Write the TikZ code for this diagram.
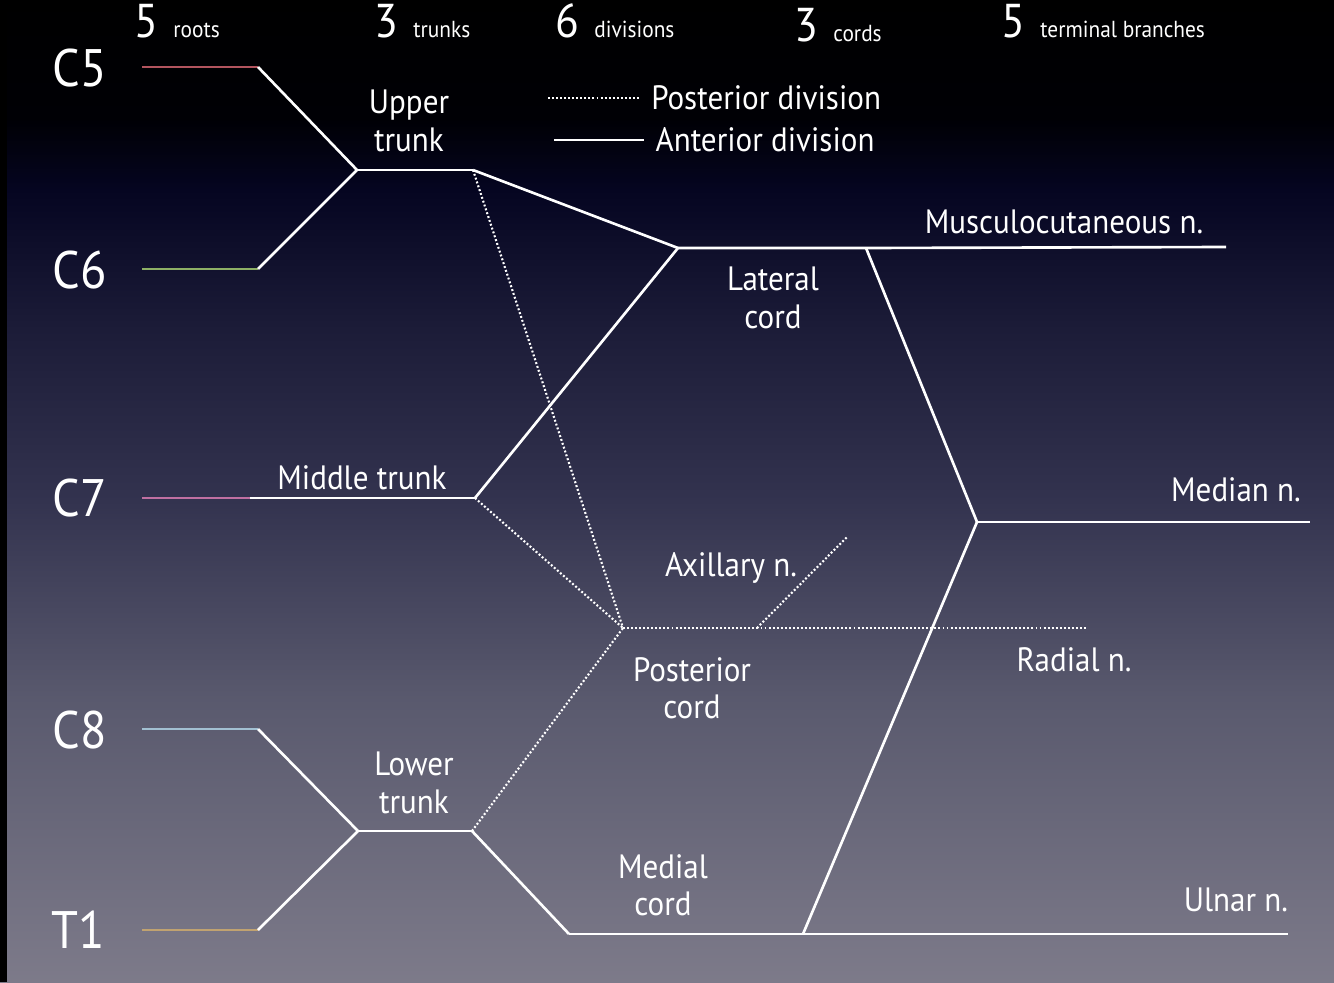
\documentclass[tikz,border=0pt]{standalone}
\usepackage{fontspec}
\setmainfont{PT Sans}[FakeStretch=0.92]
\usepackage{xcolor}
\definecolor{rootcfive}{RGB}{178,84,94}
\definecolor{rootcsix}{RGB}{142,176,102}
\definecolor{rootcseven}{RGB}{192,112,162}
\definecolor{rootceight}{RGB}{162,192,210}
\definecolor{roottone}{RGB}{192,162,112}
\usepackage{tikz}
\usetikzlibrary{positioning}
% the path is mapped onto 25bp..75bp of the shading
\pgfdeclareverticalshading{nightsky}{100bp}{%
  rgb(0bp)=(0.49,0.48,0.54); rgb(25bp)=(0.49,0.48,0.54);
  rgb(39.4bp)=(0.35,0.35,0.43); rgb(49.5bp)=(0.20,0.20,0.31);
  rgb(58.2bp)=(0.11,0.11,0.22); rgb(65.3bp)=(0.02,0.02,0.13);
  rgb(68.9bp)=(0,0,0.02); rgb(75bp)=(0,0,0); rgb(100bp)=(0,0,0)}

\begin{document}
\begin{tikzpicture}[
  x=0.01cm, y=-0.01cm,
  lbl/.style={text=white, align=center, inner sep=0pt,
              font=\fontsize{9.6}{10.6}\selectfont},
  rootlbl/.style={text=white, inner sep=0pt, anchor=base,
                  font=\fontsize{15}{15}\selectfont},
  count/.style={text=white, inner sep=0pt, anchor=base,
                font=\fontsize{13.5}{13.5}\selectfont},
  countlbl/.style={text=white, inner sep=0pt,
                   font=\fontsize{6.6}{6.6}\selectfont},
  ant/.style={white, line width=0.75pt},
  post/.style={white, line width=0.6pt, dash pattern=on 0.55pt off 0.6pt},
  rootline/.style={line width=0.75pt},
]

% Background
\useasboundingbox (0,0) rectangle (1334,982);
\shade[shading=nightsky] (0,0) rectangle (1334,982);
\fill[black] (0,0) rectangle (7,982);

% Header
\node[count] (nroots) at (146,38) {5};
\node[countlbl, right=4pt of nroots.base east, anchor=base west] (troots) {roots};
\node[count] (ntrunks) at (386,38) {3};
\node[countlbl, right=4pt of ntrunks.base east, anchor=base west] (ttrunks) {trunks};
\node[count] (ndiv) at (567,38) {6};
\node[countlbl, right=4pt of ndiv.base east, anchor=base west] (tdiv) {divisions};
\node[count] (ncords) at (806,42) {3};
\node[countlbl, right=4pt of ncords.base east, anchor=base west] (tcords) {cords};
\node[count] (nterm) at (1013,38) {5};
\node[countlbl, right=4pt of nterm.base east, anchor=base west] (tterm) {terminal branches};

% Legend
\coordinate (legpa) at (548,98);
\coordinate (legpb) at (639,98);
\coordinate (legaa) at (554,140);
\coordinate (legab) at (644,140);
\node[lbl, right=3.3pt of legpb, anchor=west] (legp) {Posterior division};
\node[lbl, right=3.1pt of legab, anchor=west] (lega) {Anterior division};
\draw[post] (legpa) -- (legpb);
\draw[ant] (legaa) -- (legab);

% Roots
\node[rootlbl] (c5) at (80,87) {C5};
\node[rootlbl] (c6) at (80,288) {C6};
\node[rootlbl] (c7) at (80,516) {C7};
\node[rootlbl] (c8) at (80,748) {C8};
\node[rootlbl] (t1) at (78,948) {T1};
\coordinate (c5a) at (142,67);  \coordinate (c5b) at (258,67);
\coordinate (c6a) at (142,269); \coordinate (c6b) at (258,269);
\coordinate (c7a) at (142,498); \coordinate (c7b) at (250,498);
\coordinate (c8a) at (142,729); \coordinate (c8b) at (258,729);
\coordinate (t1a) at (142,930); \coordinate (t1b) at (258,930);

% Trunks
\coordinate (uta) at (357,170); \coordinate (utb) at (473,170);
\coordinate (mtb) at (475,498);
\coordinate (lta) at (358,831); \coordinate (ltb) at (472,831);
\node[lbl] (upper) at (409,121) {Upper\\trunk};
\node[lbl, anchor=base] (middle) at (362,489) {Middle trunk};
\node[lbl] (lower) at (414,783) {Lower\\trunk};

% Cords
\coordinate (lca) at (678,248); \coordinate (lcb) at (866,248);
\coordinate (pca) at (623,628);
\coordinate (mca) at (569,934); \coordinate (mcb) at (803,934);
\node[lbl] (lateral) at (773,298) {Lateral\\cord};
\node[lbl] (posterior) at (692,688) {Posterior\\cord};
\node[lbl] (medial) at (663,885) {Medial\\cord};

% Terminal branches
\coordinate (musc) at (1226,247);
\coordinate (mjoin) at (977,522); \coordinate (medn) at (1310,522);
\coordinate (axa) at (757,628); \coordinate (axb) at (847,537);
\coordinate (radn) at (1087,628);
\coordinate (ulnn) at (1288,934);
\node[lbl, anchor=base] (lmusc) at (1064,233) {Musculocutaneous n.};
\node[lbl, anchor=base] (lmed) at (1236,501) {Median n.};
\node[lbl, anchor=base] (lax) at (731,576) {Axillary n.};
\node[lbl, anchor=base] (lrad) at (1074,671) {Radial n.};
\node[lbl, anchor=base] (luln) at (1236,911) {Ulnar n.};

% Roots to trunks
\draw[rootline, rootcfive] (c5a) -- (c5b);
\draw[rootline, rootcsix] (c6a) -- (c6b);
\draw[rootline, rootcseven] (c7a) -- (c7b);
\draw[rootline, rootceight] (c8a) -- (c8b);
\draw[rootline, roottone] (t1a) -- (t1b);
\draw[ant] (c5b) -- (uta); \draw[ant] (c6b) -- (uta);
\draw[ant] (c8b) -- (lta); \draw[ant] (t1b) -- (lta);
\draw[ant] (uta) -- (utb);
\draw[ant] (c7b) -- (mtb);
\draw[ant] (lta) -- (ltb);

% Divisions
\draw[ant] (utb) -- (lca); \draw[ant] (mtb) -- (lca);
\draw[ant] (ltb) -- (mca);
\draw[post] (utb) -- (pca); \draw[post] (mtb) -- (pca); \draw[post] (ltb) -- (pca);

% Cords and branches
\draw[ant] (lca) -- (lcb) -- (musc);
\draw[ant] (lcb) -- (mjoin); \draw[ant] (mcb) -- (mjoin);
\draw[ant] (mjoin) -- (medn);
\draw[ant] (mca) -- (mcb) -- (ulnn);
\draw[post] (pca) -- (radn);
\draw[post] (axa) -- (axb);

\end{tikzpicture}
\end{document}
